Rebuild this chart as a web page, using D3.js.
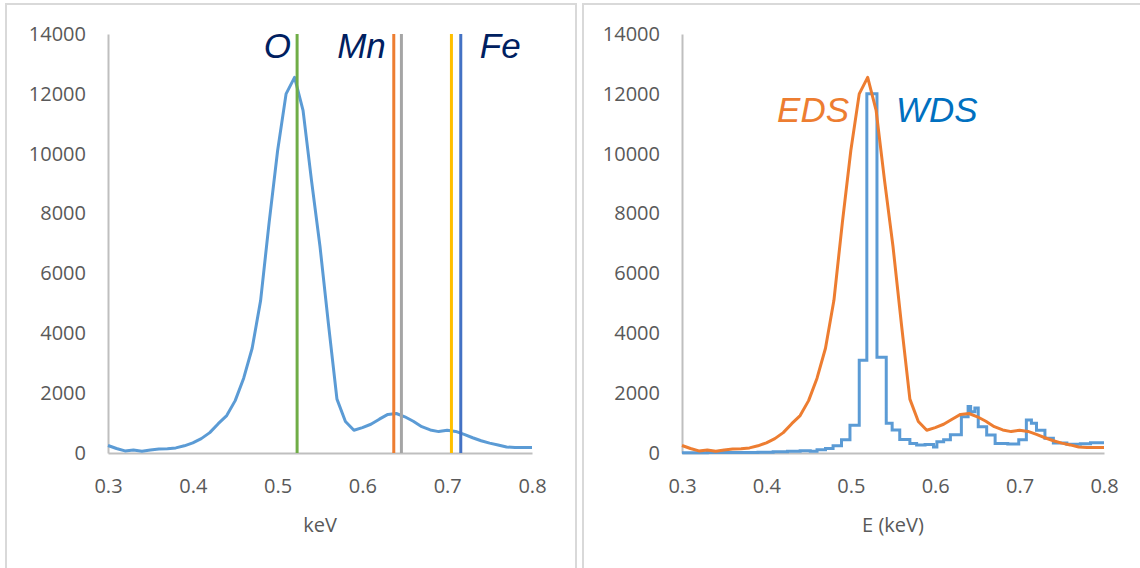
<!DOCTYPE html>
<html>
<head>
<meta charset="utf-8">
<script src="https://cdn.jsdelivr.net/npm/d3@7"></script>
<style>
  html, body { margin: 0; padding: 0; background: #ffffff; }
  svg { display: block; }
  .tick text { font-family: "Open Sans", sans-serif; font-size: 20px; fill: #595959; }
</style>
</head>
<body>
<svg id="chart" width="1140" height="568"></svg>
<script>
// EDS spectrum: energy channels (keV) and counts
const edsEnergy = [0.30, 0.31, 0.32, 0.33, 0.34, 0.35, 0.36, 0.37, 0.38, 0.39,
                   0.40, 0.41, 0.42, 0.43, 0.44, 0.45, 0.46, 0.47, 0.48, 0.49,
                   0.50, 0.51, 0.52, 0.53, 0.54, 0.55, 0.56, 0.57, 0.58, 0.59,
                   0.60, 0.61, 0.62, 0.63, 0.64, 0.65, 0.66, 0.67, 0.68, 0.69,
                   0.70, 0.71, 0.72, 0.73, 0.74, 0.75, 0.76, 0.77, 0.78, 0.79, 0.80];
const edsCounts = [250, 150, 70, 100, 60, 100, 130, 145, 170, 240,
                   340, 480, 680, 980, 1250, 1750, 2500, 3500, 5100, 7700,
                   10100, 12000, 12550, 11450, 9100, 6900, 4300, 1800, 1050, 760,
                   850, 960, 1130, 1290, 1320, 1210, 1060, 880, 770, 715,
                   760, 720, 620, 510, 410, 330, 270, 200, 185, 185, 185];

// WDS spectrum: step bins (start energy, keV) and counts
const wdsStart = [0.300, 0.330, 0.360, 0.390, 0.408, 0.425, 0.440, 0.452, 0.460, 0.470,
                  0.479, 0.489, 0.499, 0.510, 0.519, 0.531, 0.542, 0.549, 0.558, 0.570,
                  0.578, 0.588, 0.598, 0.602, 0.610, 0.618, 0.631, 0.639, 0.642, 0.647,
                  0.651, 0.661, 0.671, 0.686, 0.699, 0.708, 0.714, 0.720, 0.730, 0.740,
                  0.756, 0.772, 0.784];
const wdsCounts = [10, 20, 15, 25, 40, 55, 75, 60, 110, 150,
                   240, 440, 930, 3100, 12000, 3200, 990, 770, 450, 320,
                   270, 280, 200, 380, 440, 610, 1210, 1550, 1380, 1500,
                   880, 600, 320, 300, 440, 1100, 990, 760, 490, 330,
                   290, 310, 340];
const wdsEnd = 0.80;

// Characteristic X-ray lines (keV)
const lineNames = ["O Kα", "Mn Lα", "Mn Lβ", "Fe Lα", "Fe Lβ"];
const lineEnergy = [0.523, 0.637, 0.646, 0.705, 0.716];
const lineColors = ["#70ad47", "#ed7d31", "#a5a5a5", "#ffc000", "#4472c4"];

// Element labels
const elementNames = ["O", "Mn", "Fe"];

// Axis ticks
const xTicks = [0.3, 0.4, 0.5, 0.6, 0.7, 0.8];
const yTicks = [0, 2000, 4000, 6000, 8000, 10000, 12000, 14000];

const svg = d3.select("#chart");
const axisGray = "#bfbfbf";
const textGray = "#595959";

// Panel frames
svg.append("rect").attr("x", 6).attr("y", 4).attr("width", 570).attr("height", 580)
  .attr("fill", "none").attr("stroke", "#d9d9d9").attr("stroke-width", 2);
svg.append("rect").attr("x", 583).attr("y", 4).attr("width", 580).attr("height", 580)
  .attr("fill", "none").attr("stroke", "#d9d9d9").attr("stroke-width", 2);

const y = d3.scaleLinear().domain([0, 14000]).range([453, 34]);

function drawAxes(g, x, title) {
  const ya = g.append("g").attr("transform", `translate(${x.range()[0]},0)`)
    .call(d3.axisLeft(y).tickValues(yTicks).tickSize(0).tickSizeOuter(0).tickPadding(22)
      .tickFormat(d3.format("d")));
  const xa = g.append("g").attr("transform", `translate(0,${y(0)})`)
    .call(d3.axisBottom(x).tickValues(xTicks).tickSize(0).tickSizeOuter(0).tickPadding(26)
      .tickFormat(d3.format(".1f")));
  [ya, xa].forEach(a => a.select(".domain").attr("stroke", axisGray).attr("stroke-width", 2));
  g.append("text")
    .attr("x", (x.range()[0] + x.range()[1]) / 2).attr("y", 532)
    .attr("text-anchor", "middle")
    .attr("font-family", "'Open Sans', sans-serif").attr("font-size", 20)
    .attr("fill", textGray).text(title);
}

const edsPoints = edsEnergy.map((e, i) => [e, edsCounts[i]]);

// ---- Left panel: EDS spectrum with X-ray line markers ----
const xL = d3.scaleLinear().domain([0.3, 0.8]).range([108, 532]);
const left = svg.append("g");
drawAxes(left, xL, "keV");

left.append("path")
  .datum(edsPoints)
  .attr("fill", "none").attr("stroke", "#5b9bd5").attr("stroke-width", 3)
  .attr("stroke-linejoin", "round")
  .attr("d", d3.line().x(d => xL(d[0])).y(d => y(d[1])));

left.selectAll("line.xray")
  .data(lineEnergy)
  .join("line").attr("class", "xray")
  .attr("x1", d => xL(d)).attr("x2", d => xL(d))
  .attr("y1", y(14000)).attr("y2", y(0))
  .attr("stroke", (d, i) => lineColors[i]).attr("stroke-width", 3);

const labelFont = "'Liberation Sans', Arial, sans-serif";
const elementLabels = [
  { text: elementNames[0], x: xL(lineEnergy[0]) - 6, anchor: "end" },
  { text: elementNames[1], x: xL(lineEnergy[1]) - 8, anchor: "end" },
  { text: elementNames[2], x: xL(lineEnergy[4]) + 19, anchor: "start" }
];
left.selectAll("text.elem")
  .data(elementLabels)
  .join("text").attr("class", "elem")
  .attr("x", d => d.x).attr("y", 58)
  .attr("text-anchor", d => d.anchor)
  .attr("font-family", labelFont).attr("font-style", "italic").attr("font-size", 35)
  .attr("fill", "#002060")
  .text(d => d.text);

// ---- Right panel: EDS vs WDS ----
const xR = d3.scaleLinear().domain([0.3, 0.8]).range([682, 1104]);
const right = svg.append("g");
drawAxes(right, xR, "E (keV)");

const wdsPoints = wdsStart.map((e, i) => [e, wdsCounts[i]]);
wdsPoints.push([wdsEnd, wdsCounts[wdsCounts.length - 1]]);

right.append("path")
  .datum(wdsPoints)
  .attr("fill", "none").attr("stroke", "#5b9bd5").attr("stroke-width", 3)
  .attr("d", d3.line().curve(d3.curveStepAfter).x(d => xR(d[0])).y(d => y(d[1])));

right.append("path")
  .datum(edsPoints)
  .attr("fill", "none").attr("stroke", "#ed7d31").attr("stroke-width", 3)
  .attr("stroke-linejoin", "round")
  .attr("d", d3.line().x(d => xR(d[0])).y(d => y(d[1])));

right.append("text")
  .attr("x", 849).attr("y", 122).attr("text-anchor", "end")
  .attr("font-family", labelFont).attr("font-style", "italic").attr("font-size", 35)
  .attr("fill", "#ed7d31").text("EDS");
right.append("text")
  .attr("x", 896).attr("y", 122).attr("text-anchor", "start")
  .attr("font-family", labelFont).attr("font-style", "italic").attr("font-size", 35)
  .attr("fill", "#0070c0").text("WDS");
</script>
</body>
</html>
